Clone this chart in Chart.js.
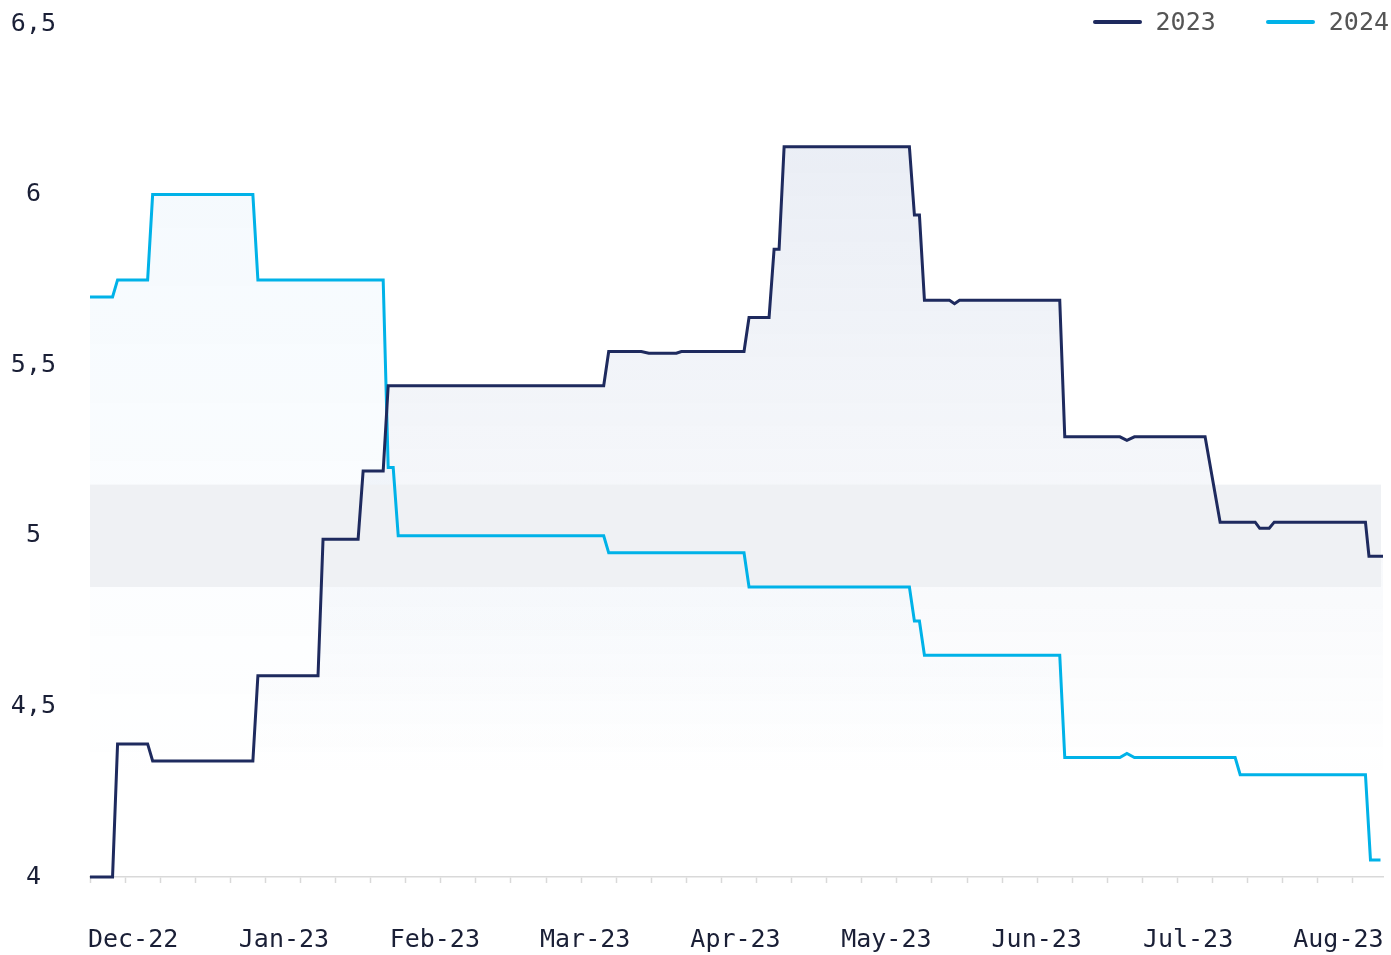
<!DOCTYPE html>
<html>
<head>
<meta charset="utf-8">
<title>2023 vs 2024</title>
<script src="https://cdn.jsdelivr.net/npm/chart.js@4.4.1/dist/chart.umd.min.js"></script>
<style>
    html, body { margin: 0; padding: 0; background: #fff; }
    .chart-wrap { position: relative; width: 1391px; height: 955px; }
    #legend { position: absolute; top: 9px; right: 2px; display: flex; font: 25px "DejaVu Sans Mono", monospace; color: #555; }
    #legend .item { display: flex; align-items: center; margin-left: 50px; line-height: 26px; }
    #legend .swatch { width: 49px; height: 4px; border-radius: 2px; margin-right: 14px; }
</style>
</head>
<body>
<div class="chart-wrap">
    <canvas id="rateChart"></canvas>
    <div id="legend"></div>
</div>
<script>
// x is the day index from the left edge of the plot
const days2023 = [0, 4.5, 5.5, 11.5, 12.5, 32.5, 33.5, 45.5, 46.5, 53.5, 54.5, 58.5, 59.5, 102.5, 103.5,
    110, 111.5, 117, 118, 130.5, 131.5, 135.5, 136.5, 137.5, 138.5, 163.5, 164.5, 165.5, 166.5, 171.5,
    172.5, 173.5, 193.5, 194.5, 205.5, 206.9, 208.4, 222.5, 225.5, 232.5, 233.4, 235.3, 236.3, 254.5, 255.2, 258];
const rate2023 = [4.0, 4.0, 4.39, 4.39, 4.34, 4.34, 4.59, 4.59, 4.99, 4.99, 5.19, 5.19, 5.44, 5.44, 5.54,
    5.54, 5.535, 5.535, 5.54, 5.54, 5.64, 5.64, 5.84, 5.84, 6.14, 6.14, 5.94, 5.94, 5.69, 5.69,
    5.68, 5.69, 5.69, 5.29, 5.29, 5.28, 5.29, 5.29, 5.04, 5.04, 5.022, 5.022, 5.04, 5.04, 4.94, 4.94];

const days2024 = [0, 4.5, 5.5, 11.5, 12.5, 32.5, 33.5, 58.5, 59.5, 60.5, 61.5, 102.5, 103.5, 130.5, 131.5,
    163.5, 164.5, 165.5, 166.5, 193.5, 194.5, 205.5, 206.9, 208.4, 228.5, 229.5, 254.5, 255.5, 257.5];
const rate2024 = [5.70, 5.70, 5.75, 5.75, 6.0, 6.0, 5.75, 5.75, 5.20, 5.20, 5.0, 5.0, 4.95, 4.95, 4.85,
    4.85, 4.75, 4.75, 4.65, 4.65, 4.35, 4.35, 4.362, 4.35, 4.35, 4.30, 4.30, 4.05, 4.05];

const monthLabels = ['Dec-22', 'Jan-23', 'Feb-23', 'Mar-23', 'Apr-23', 'May-23', 'Jun-23', 'Jul-23', 'Aug-23'];
const monthPos = [8.6, 38.7, 68.8, 98.8, 128.8, 158.9, 188.9, 219.1, 249.1];
const yTicks = [4, 4.5, 5, 5.5, 6, 6.5];
const band = [4.85, 5.15];

const xMax = 258;
const FONT = '"DejaVu Sans Mono", monospace';
const INK = '#1a1f36';
const AXIS_GREY = '#d9d9d9';

function toPoints(xs, ys) {
    return xs.map((x, i) => ({ x: x, y: ys[i] }));
}

// vertical fade used under each line, gone by about 4.28
function fadeFill(r, g, b, a) {
    return function(context) {
        const chart = context.chart;
        const area = chart.chartArea;
        if (!area) return null;
        const end = chart.scales.y.getPixelForValue(4.28);
        const grad = chart.ctx.createLinearGradient(0, area.top, 0, end);
        grad.addColorStop(0, `rgba(${r},${g},${b},${a})`);
        grad.addColorStop(1, `rgba(${r},${g},${b},0)`);
        return grad;
    };
}

// grey horizontal band across the plot
const bandPlugin = {
    id: 'band',
    beforeDatasetsDraw(chart) {
        const { ctx, chartArea, scales } = chart;
        const top = scales.y.getPixelForValue(band[1]);
        const bottom = scales.y.getPixelForValue(band[0]);
        ctx.save();
        ctx.fillStyle = '#eff1f4';
        ctx.fillRect(chartArea.left, top, chartArea.right - chartArea.left - 2, bottom - top);
        ctx.restore();
    }
};

const ctx = document.getElementById('rateChart').getContext('2d');
const rateChart = new Chart(ctx, {
    type: 'line',
    data: {
        datasets: [{
            label: '2023',
            data: toPoints(days2023, rate2023),
            borderColor: '#1e2a5e',
            backgroundColor: fadeFill(63, 97, 163, 0.13),
            borderWidth: 3,
            pointRadius: 0,
            tension: 0,
            fill: 'start',
            clip: 4
        }, {
            label: '2024',
            data: toPoints(days2024, rate2024),
            borderColor: '#00b2e8',
            backgroundColor: fadeFill(0, 120, 220, 0.05),
            borderWidth: 3,
            pointRadius: 0,
            tension: 0,
            fill: 'start',
            clip: 4
        }]
    },
    options: {
        responsive: true,
        maintainAspectRatio: false,
        animation: false,
        layout: {
            padding: { top: 24, right: 8, left: 0, bottom: 0 }
        },
        plugins: {
            legend: { display: false },
            tooltip: { enabled: false },
            filler: { drawTime: 'beforeDatasetsDraw' }
        },
        scales: {
            x: {
                type: 'linear',
                min: 0,
                max: xMax,
                afterBuildTicks: function(scale) {
                    const ticks = [];
                    for (let d = 0; d <= xMax; d += 7) ticks.push({ value: d });
                    monthPos.forEach(p => ticks.push({ value: p }));
                    ticks.sort((a, b) => a.value - b.value);
                    scale.ticks = ticks;
                },
                afterFit: function(scale) {
                    scale.height = 78;
                    scale.paddingLeft = 0;
                    scale.paddingRight = 0;
                },
                ticks: {
                    autoSkip: false,
                    maxRotation: 0,
                    padding: 42,
                    color: INK,
                    font: { family: FONT, size: 25 },
                    callback: function(value) {
                        const i = monthPos.indexOf(value);
                        return i >= 0 ? monthLabels[i] : '';
                    }
                },
                grid: {
                    drawOnChartArea: false,
                    drawTicks: true,
                    tickLength: 6,
                    tickWidth: 1.5,
                    tickColor: function(c) {
                        return c.tick && monthPos.indexOf(c.tick.value) >= 0 ? 'rgba(0,0,0,0)' : AXIS_GREY;
                    }
                },
                border: { display: true, color: AXIS_GREY, width: 1.5 }
            },
            y: {
                min: 4,
                max: 6.5,
                afterBuildTicks: function(scale) {
                    scale.ticks = yTicks.map(v => ({ value: v }));
                },
                afterFit: function(scale) {
                    scale.width = 90;
                    scale.paddingTop = 0;
                    scale.paddingBottom = 0;
                },
                ticks: {
                    crossAlign: 'center',
                    padding: 34,
                    color: INK,
                    font: { family: FONT, size: 25 },
                    callback: function(value) {
                        return String(value).replace('.', ',');
                    }
                },
                grid: { display: false, drawTicks: false },
                border: { display: false }
            }
        }
    },
    plugins: [bandPlugin]
});

// HTML legend built from the datasets
const legendEl = document.getElementById('legend');
rateChart.data.datasets.forEach(ds => {
    const item = document.createElement('div');
    item.className = 'item';
    const swatch = document.createElement('span');
    swatch.className = 'swatch';
    swatch.style.background = ds.borderColor;
    const text = document.createElement('span');
    text.textContent = ds.label;
    item.appendChild(swatch);
    item.appendChild(text);
    legendEl.appendChild(item);
});
</script>
</body>
</html>
